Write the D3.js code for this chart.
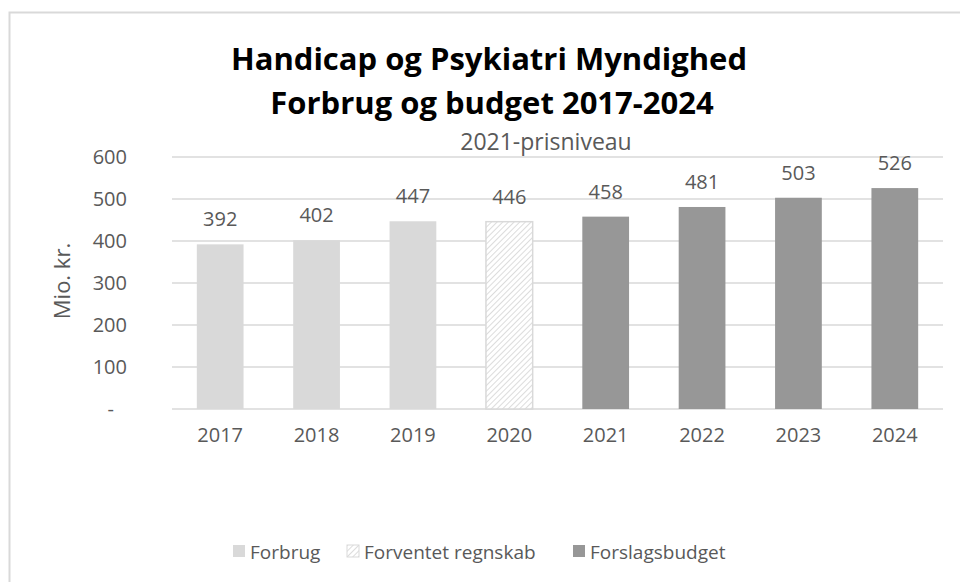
<!DOCTYPE html>
<html>
<head>
  <meta charset="UTF-8">
  <title>Handicap og Psykiatri Myndighed</title>
  <script src="https://d3js.org/d3.v7.min.js"></script>
  <style>
    body { margin: 0; background: #fff; }
    text { font-family: "Open Sans", "Noto Sans", sans-serif; }
    .tick-label, .data-label, .legend-label, .sub { fill: #595959; }
  </style>
</head>
<body>
  <div id="chart"></div>
  <script>
    // chart values
    var years = ["2017", "2018", "2019", "2020", "2021", "2022", "2023", "2024"];
    var values = [392, 402, 447, 446, 458, 481, 503, 526];
    var seriesOf = ["Forbrug", "Forbrug", "Forbrug", "Forventet regnskab",
                    "Forslagsbudget", "Forslagsbudget", "Forslagsbudget", "Forslagsbudget"];
    var seriesNames = ["Forbrug", "Forventet regnskab", "Forslagsbudget"];
    var yTicks = [0, 100, 200, 300, 400, 500, 600];

    var data = years.map(function (y, i) {
      return { year: y, value: values[i], series: seriesOf[i] };
    });

    var W = 960, H = 582;
    var svg = d3.select("#chart").append("svg")
      .attr("width", W)
      .attr("height", H);

    // hatch pattern for "Forventet regnskab"
    var defs = svg.append("defs");
    var pat = defs.append("pattern")
      .attr("id", "hatch")
      .attr("patternUnits", "userSpaceOnUse")
      .attr("width", 4)
      .attr("height", 4)
      .attr("patternTransform", "rotate(45)");
    pat.append("rect").attr("width", 4).attr("height", 4).attr("fill", "#fff");
    pat.append("line")
      .attr("x1", 0).attr("y1", 0).attr("x2", 0).attr("y2", 4)
      .attr("stroke", "#d4d4d4").attr("stroke-width", 1.6);

    var fills = {
      "Forbrug": "#d9d9d9",
      "Forventet regnskab": "url(#hatch)",
      "Forslagsbudget": "#979797"
    };

    // outer chart border
    svg.append("rect")
      .attr("x", 9.5).attr("y", 12.5)
      .attr("width", W).attr("height", H)
      .attr("fill", "none")
      .attr("stroke", "#d9d9d9")
      .attr("stroke-width", 2);

    var x = d3.scaleBand()
      .domain(years)
      .range([172, 943])
      .paddingInner(0.515)
      .paddingOuter(0.2575);

    var y = d3.scaleLinear()
      .domain([0, 600])
      .range([409, 157]);

    // gridlines
    svg.append("g")
      .selectAll("line")
      .data(yTicks)
      .enter().append("line")
      .attr("x1", 172).attr("x2", 943)
      .attr("y1", function (d) { return y(d); })
      .attr("y2", function (d) { return y(d); })
      .attr("stroke", "#d9d9d9")
      .attr("stroke-width", 1.5);

    // y axis labels
    var yAxis = svg.append("g")
      .attr("transform", "translate(127,0)")
      .call(d3.axisLeft(y).tickValues(yTicks).tickSize(0).tickPadding(0)
        .tickFormat(function (d) { return d === 0 ? "-" : d; }));
    yAxis.select(".domain").remove();
    yAxis.selectAll("text")
      .attr("class", "tick-label")
      .attr("font-size", 20)
      .attr("fill", "#595959")
      .style("font-family", "Open Sans");
    yAxis.selectAll(".tick").filter(function (d) { return d === 0; })
      .select("text").attr("x", -13);

    // x axis labels
    var xAxis = svg.append("g")
      .attr("transform", "translate(0,409)")
      .call(d3.axisBottom(x).tickSize(0).tickPadding(19));
    xAxis.select(".domain").remove();
    xAxis.selectAll("text")
      .attr("class", "tick-label")
      .attr("font-size", 20)
      .attr("fill", "#595959")
      .style("font-family", "Open Sans");

    // bars
    svg.append("g")
      .selectAll("rect")
      .data(data)
      .enter().append("rect")
      .attr("x", function (d) { return x(d.year); })
      .attr("y", function (d) { return y(d.value); })
      .attr("width", x.bandwidth())
      .attr("height", function (d) { return y(0) - y(d.value); })
      .attr("fill", function (d) { return fills[d.series]; })
      .attr("stroke", function (d) { return d.series === "Forventet regnskab" ? "#d9d9d9" : "none"; })
      .attr("stroke-width", 1.5);

    // data labels
    svg.append("g")
      .selectAll("text")
      .data(data)
      .enter().append("text")
      .attr("class", "data-label")
      .attr("x", function (d) { return x(d.year) + x.bandwidth() / 2; })
      .attr("y", function (d) { return y(d.value) - 18; })
      .attr("text-anchor", "middle")
      .attr("font-size", 20)
      .text(function (d) { return d.value; });

    // titles
    svg.append("text")
      .attr("x", 489).attr("y", 70)
      .attr("text-anchor", "middle")
      .attr("font-size", 31)
      .attr("font-weight", "bold")
      .attr("fill", "#000")
      .text("Handicap og Psykiatri Myndighed");
    svg.append("text")
      .attr("x", 492).attr("y", 114)
      .attr("text-anchor", "middle")
      .attr("font-size", 31)
      .attr("font-weight", "bold")
      .attr("fill", "#000")
      .text("Forbrug og budget 2017-2024");
    svg.append("text")
      .attr("class", "sub")
      .attr("x", 546).attr("y", 150)
      .attr("text-anchor", "middle")
      .attr("font-size", 23)
      .text("2021-prisniveau");

    // y axis title
    svg.append("text")
      .attr("class", "sub")
      .attr("transform", "translate(70,281) rotate(-90)")
      .attr("text-anchor", "middle")
      .attr("font-size", 22)
      .text("Mio. kr.");

    // legend
    var legendX = [233, 347, 573];
    var legend = svg.append("g")
      .selectAll("g")
      .data(seriesNames)
      .enter().append("g")
      .attr("transform", function (d, i) { return "translate(" + legendX[i] + ",545)"; });
    legend.append("rect")
      .attr("width", 12).attr("height", 12)
      .attr("fill", function (d) { return fills[d]; })
      .attr("stroke", function (d) { return d === "Forventet regnskab" ? "#d9d9d9" : "none"; });
    legend.append("text")
      .attr("class", "legend-label")
      .attr("x", 17).attr("y", 14)
      .attr("font-size", 19)
      .text(function (d) { return d; });
  </script>
</body>
</html>
